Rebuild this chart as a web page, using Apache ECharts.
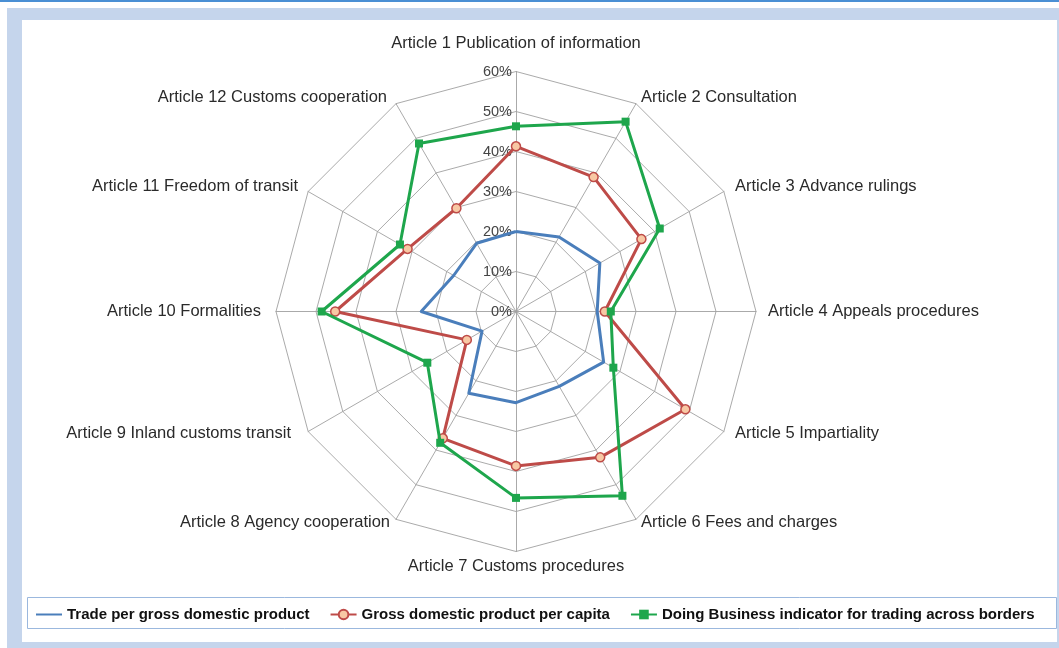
<!DOCTYPE html>
<html><head><meta charset="utf-8">
<script src="https://cdn.jsdelivr.net/npm/echarts@6/dist/echarts.min.js"></script>
<style>
html,body{margin:0;padding:0;background:#fff;width:1059px;height:648px;overflow:hidden;position:relative}
#topline{position:absolute;left:0;top:0;width:1059px;height:2px;background:#4a8fd4}
#frame{position:absolute;left:7px;top:8px;width:1052px;height:640px;background:#c5d5ec}
#panel{position:absolute;left:22px;top:20px;width:1035px;height:622px;background:#fff}
#chart{position:absolute;left:0;top:0;width:1059px;height:648px}
</style></head>
<body>
<div id="topline"></div><div id="frame"></div><div id="panel"></div>
<div id="chart"></div>
<script>
const categories = ['Article 1 Publication of information','Article 2 Consultation','Article 3 Advance rulings','Article 4 Appeals procedures','Article 5 Impartiality','Article 6 Fees and charges','Article 7 Customs procedures','Article 8 Agency cooperation','Article 9 Inland customs transit','Article 10 Formalities','Article 11 Freedom of transit','Article 12 Customs cooperation'];
const tradePerGDP = [20, 21.5, 24.2, 20.3, 25.3, 21.6, 22.8, 23.6, 9.8, 23.7, 18, 19.7];
const gdpPerCapita = [41.3, 38.8, 36.2, 22.2, 48.9, 42.1, 38.6, 36.6, 14.2, 45.2, 31.3, 29.8];
const doingBusiness = [46.3, 54.8, 41.5, 23.7, 28.1, 53.2, 46.6, 37.9, 25.6, 48.6, 33.5, 48.5];
const seriesNames = ['Trade per gross domestic product','Gross domestic product per capita','Doing Business indicator for trading across borders'];
const tickMax = 60, tickStep = 10;

// ECharts radar runs counter-clockwise; reorder so the articles run clockwise from the top
const cw = arr => [arr[0]].concat(arr.slice(1).reverse());
// per-article label nudges (rich style keys), in original article order
const labelStyle = ['a1','a2','a3','a4','a5','a6','a7','a8','a9','a10','a11','a12'];

const BLUE = '#4a7ebb', RED = '#be4b48', GREEN = '#1ea64c', PEACH = '#f8c8a4';
const FONT = '"Liberation Sans",Arial,sans-serif';
const FS = 16.5;
const chart = echarts.init(document.getElementById('chart'), null, {renderer:'canvas'});
const C = [516, 311.5], R = 240;
const rs = (p, extra) => Object.assign({fontSize:FS, fontFamily:FONT, color:'#2a2a2a', padding:p}, extra||{});
chart.setOption({
  animation:false,
  textStyle:{fontFamily:FONT},
  grid:{left:-100,top:-100,width:10,height:10,show:false},
  xAxis:{type:'category',show:false,data:[]},
  yAxis:{type:'value',show:false},
  polar:{center:C,radius:R},
  angleAxis:{show:false,startAngle:90,min:0,max:360},
  radiusAxis:{min:0,max:tickMax,interval:tickStep,axisLine:{show:false},axisTick:{show:false},splitLine:{show:false},
    axisLabel:{formatter:'{value}%',color:'#444',fontSize:14.5,fontFamily:FONT,margin:4}},
  radar:{
    center:C, radius:R, shape:'polygon', splitNumber:6, startAngle:90,
    indicator: cw(categories).map(n=>({name:n,min:0,max:tickMax})),
    axisName:{
      color:'#2a2a2a',fontSize:FS,fontFamily:FONT,
      formatter:(name)=>'{'+labelStyle[categories.indexOf(name)]+'|'+name+'}',
      rich:{
        a1:rs([0,0,10,0]),
        a2:rs([4,0,0,0]),
        a3:rs([0,0,0,2.5]),
        a4:rs([0,0,0,2]),
        a5:rs([0,0,7,2.5]),
        a6:rs([0,0,12,0]),
        a7:rs([0,0,0,0],{lineHeight:9}),
        a8:rs([0,1,12,0]),
        a9:rs([0,8.5,7,0]),
        a10:rs([0,5,0,0]),
        a11:rs([0,1.5,0,0]),
        a12:rs([4,4,0,0])
      }
    },
    nameGap:10,
    splitLine:{lineStyle:{color:'#a0a0a0',width:0.9}},
    splitArea:{show:false},
    axisLine:{lineStyle:{color:'#a0a0a0',width:0.9}},
    axisTick:{show:false}, axisLabel:{show:false}
  },
  graphic:[{type:'rect',shape:{x:27.5,y:597.5,width:1029,height:31},style:{fill:'#fff',stroke:'#9bb8de',lineWidth:1},z:-1}],
  legend:{
    left:30, top:602, width:1020, itemGap:20, itemWidth:26, itemHeight:12,
    textStyle:{fontFamily:FONT,fontSize:15,fontWeight:'bold',color:'#111'},
    data:seriesNames
  },
  series:[
    {type:'line',name:seriesNames[0],data:[],symbol:'circle',lineStyle:{color:BLUE,width:3},itemStyle:{color:BLUE,opacity:0}},
    {type:'line',name:seriesNames[1],data:[],symbol:'circle',symbolSize:8,lineStyle:{color:RED,width:3},itemStyle:{color:PEACH,borderColor:RED,borderWidth:1.5}},
    {type:'line',name:seriesNames[2],data:[],symbol:'rect',symbolSize:8,lineStyle:{color:GREEN,width:3},itemStyle:{color:GREEN}},
    {type:'radar',name:seriesNames[0],symbol:'none',lineStyle:{color:BLUE,width:3},itemStyle:{color:BLUE},data:[{value:cw(tradePerGDP),name:seriesNames[0]}],z:3},
    {type:'radar',name:seriesNames[1],symbol:'circle',symbolSize:9,lineStyle:{color:RED,width:3},itemStyle:{color:PEACH,borderColor:RED,borderWidth:1.5},data:[{value:cw(gdpPerCapita),name:seriesNames[1]}],z:4},
    {type:'radar',name:seriesNames[2],symbol:'rect',symbolSize:8,lineStyle:{color:GREEN,width:3},itemStyle:{color:GREEN},data:[{value:cw(doingBusiness),name:seriesNames[2]}],z:5}
  ]
});
</script>
</body></html>
